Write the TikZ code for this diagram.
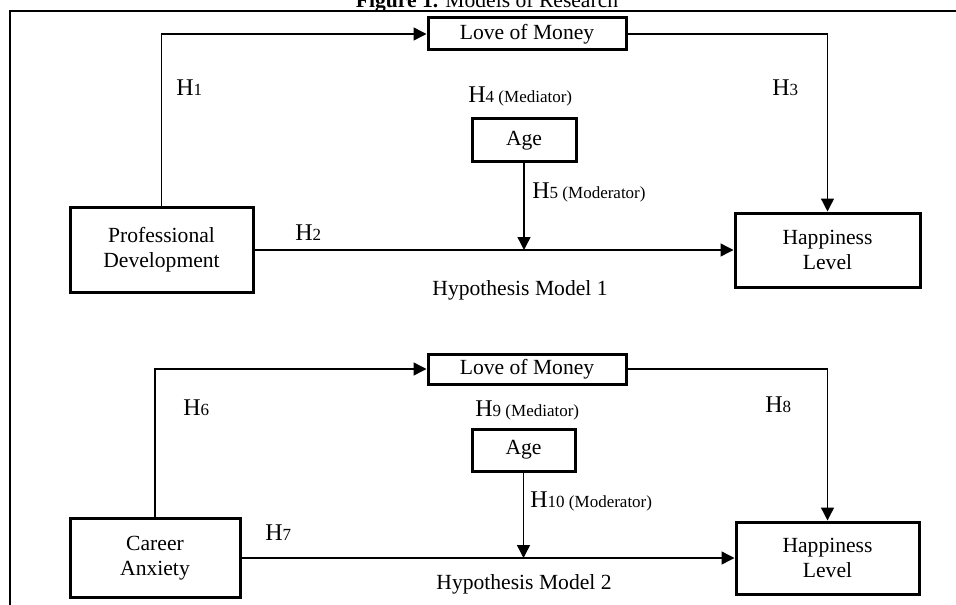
\documentclass[tikz,border=0pt]{standalone}
\usepackage{fontspec}
\setmainfont{Liberation Serif}
\usetikzlibrary{shapes, arrows.meta, positioning}
\tikzstyle{var} = [rectangle, draw=black, line width=1.5pt, text centered, align=center, inner sep=0pt, font=\fontsize{10.8}{12.6}\selectfont]
\tikzstyle{arrow} = [line width=0.7pt, -{Triangle[length=6.5pt, width=6.5pt]}]
\tikzstyle{link} = [line width=0.7pt]
\tikzstyle{hlabel} = [inner sep=0pt, anchor=west, font=\fontsize{12}{14}\selectfont]
\tikzstyle{caption} = [inner sep=0pt, font=\fontsize{10.8}{12.6}\selectfont]
\newcommand{\hnum}[1]{H{\fontsize{8.5}{10}\selectfont #1}}

\begin{document}
\begin{tikzpicture}[x=0.5pt, y=-0.5pt]
        \useasboundingbox (0,0) rectangle (956,604);
        \clip (0,0) rectangle (956,604);

        % Title and frame
        \node (title) [caption, anchor=base] at (487,8) {\textbf{Figure 1.} Models of Research};
        \draw [line width=1pt] (10,640) -- (10,11) -- (980,11);

        % Nodes, model 1
        \node (love1) [var, minimum width=99pt, minimum height=16pt] at (527,34) {Love of Money};
        \node (age1) [var, minimum width=52pt, minimum height=21.5pt] at (524,140.5) {Age};
        \node (pd) [var, minimum width=91.5pt, minimum height=42.5pt] at (161.5,250) {Professional\\Development};
        \node (happy1) [var, minimum width=92.5pt, minimum height=37pt] at (827.5,250) {Happiness\\Level};

        % Nodes, model 2
        \node (love2) [var, minimum width=99pt, minimum height=15pt] at (527,369) {Love of Money};
        \node (age2) [var, minimum width=51.5pt, minimum height=21pt] at (523.5,450) {Age};
        \node (career) [var, minimum width=85pt, minimum height=39.5pt] at (155,558) {Career\\Anxiety};
        \node (happy2) [var, minimum width=91.5pt, minimum height=36pt] at (827.5,558) {Happiness\\Level};

        % Labels
        \node (h1) [hlabel] at (176,88) {\hnum{1}};
        \node (h3) [hlabel] at (772,88) {\hnum{3}};
        \node (h4) [hlabel] at (468,96) {\hnum{4 (Mediator)}};
        \node (h5) [hlabel] at (532,192) {\hnum{5 (Moderator)}};
        \node (h2) [hlabel] at (295,233) {\hnum{2}};
        \node (model1) [caption] at (520,290) {Hypothesis Model 1};
        \node (h6) [hlabel] at (183,408) {\hnum{6}};
        \node (h8) [hlabel] at (765,405) {\hnum{8}};
        \node (h9) [hlabel] at (475,410) {\hnum{9 (Mediator)}};
        \node (h10) [hlabel] at (530,501) {\hnum{10 (Moderator)}};
        \node (h7) [hlabel] at (265,533) {\hnum{7}};
        \node (model2) [caption] at (524,584) {Hypothesis Model 2};

        % Arrows
        \draw [arrow] (pd.north) |- (love1.west);
        \draw [arrow] (love1.east) -| (happy1.north);
        \draw [arrow] (pd.east) -- (happy1.west);
        \draw [arrow] (age1.south) -- (age1.south |- pd.east);

        \draw [arrow] (career.north) |- (love2.west);
        \draw [arrow] (love2.east) -| (happy2.north);
        \draw [arrow] (career.east) -- (happy2.west);
        \draw [arrow] (age2.south) -- (age2.south |- career.east);

    \end{tikzpicture}
\end{document}
